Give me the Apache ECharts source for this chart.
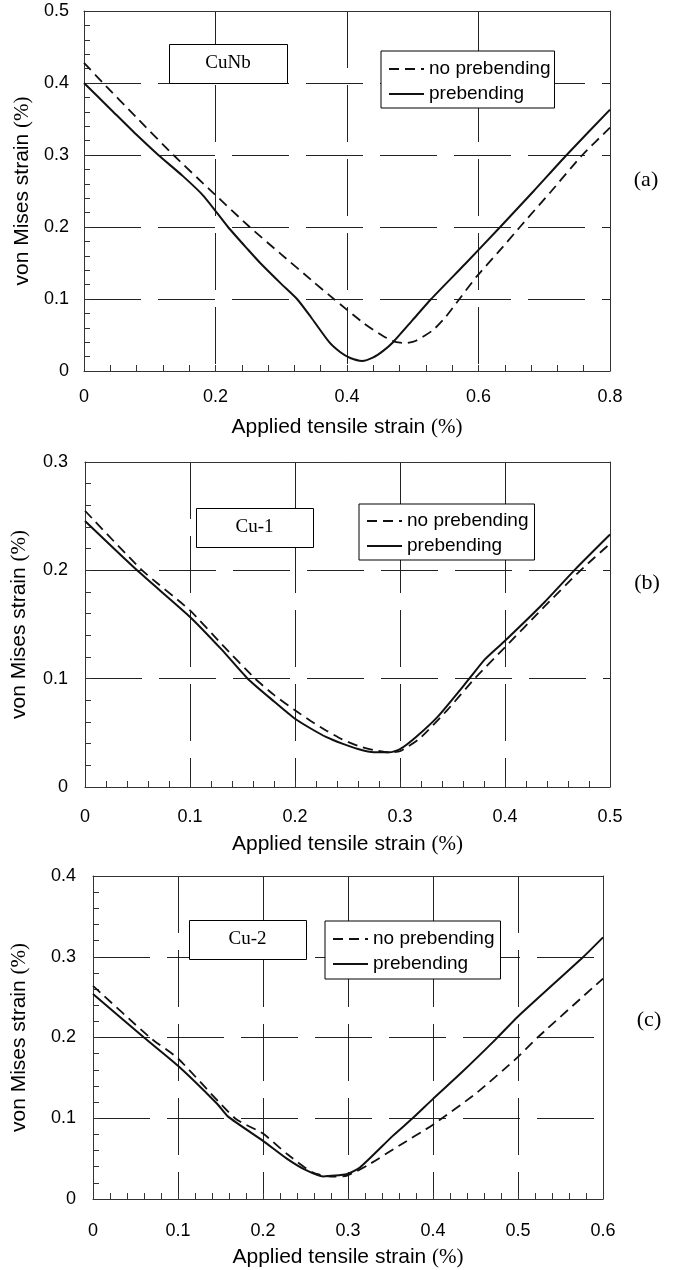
<!DOCTYPE html>
<html>
<head>
<meta charset="utf-8">
<script src="https://cdn.jsdelivr.net/npm/echarts@6/dist/echarts.min.js"></script>
<style>
  html, body { margin: 0; padding: 0; background: #fff; }
  #chart { width: 680px; height: 1270px; }
</style>
</head>
<body>
<div id="chart"></div>
<script>
// (a) CuNb
const aPreX = [0, 0.04, 0.08, 0.113, 0.15, 0.182, 0.219, 0.25, 0.268, 0.30, 0.324, 0.345, 0.373, 0.39, 0.405, 0.423, 0.44, 0.455, 0.47, 0.50, 0.528, 0.58, 0.633, 0.684, 0.734, 0.8]
const aPreY = [0.400, 0.364, 0.328, 0.300, 0.271, 0.243, 0.200, 0.168, 0.150, 0.121, 0.100, 0.075, 0.040, 0.026, 0.018, 0.014, 0.019, 0.028, 0.040, 0.071, 0.100, 0.149, 0.200, 0.250, 0.300, 0.363]
const aNoX = [0, 0.029, 0.08, 0.136, 0.19, 0.252, 0.30, 0.35, 0.38, 0.426, 0.456, 0.475, 0.49, 0.505, 0.531, 0.55, 0.571, 0.597, 0.63, 0.663, 0.71, 0.758, 0.8]
const aNoY = [0.428, 0.400, 0.352, 0.300, 0.253, 0.200, 0.162, 0.123, 0.100, 0.066, 0.048, 0.040, 0.039, 0.042, 0.057, 0.075, 0.100, 0.131, 0.165, 0.200, 0.249, 0.300, 0.338]

// (b) Cu-1
const bPreX = [0, 0.0496, 0.1, 0.13, 0.155, 0.18, 0.2, 0.215, 0.23, 0.245, 0.26, 0.275, 0.29, 0.3, 0.315, 0.336, 0.366, 0.381, 0.4, 0.435, 0.466, 0.5]
const bPreY = [0.2455, 0.200, 0.157, 0.127, 0.100, 0.079, 0.063, 0.054, 0.046, 0.040, 0.035, 0.032, 0.032, 0.035, 0.046, 0.065, 0.100, 0.118, 0.135, 0.168, 0.200, 0.233]
const bNoX = [0, 0.0545, 0.1, 0.13, 0.162, 0.18, 0.2, 0.215, 0.23, 0.245, 0.26, 0.275, 0.29, 0.3, 0.319, 0.345, 0.371, 0.4, 0.435, 0.472, 0.5]
const bNoY = [0.255, 0.200, 0.163, 0.132, 0.100, 0.085, 0.0708, 0.061, 0.052, 0.044, 0.038, 0.034, 0.032, 0.033, 0.045, 0.071, 0.100, 0.129, 0.164, 0.200, 0.2246]

// (c) Cu-2
const cPreX = [0, 0.06, 0.1, 0.146, 0.159, 0.2, 0.228, 0.25, 0.271, 0.299, 0.314, 0.353, 0.376, 0.4, 0.432, 0.474, 0.5, 0.577, 0.6]
const cPreY = [0.254, 0.200, 0.165, 0.118, 0.102, 0.072, 0.050, 0.036, 0.028, 0.031, 0.039, 0.0785, 0.100, 0.124, 0.155, 0.198, 0.226, 0.300, 0.324]
const cNoX = [0, 0.067, 0.1, 0.167, 0.2, 0.228, 0.258, 0.279, 0.299, 0.325, 0.36, 0.4, 0.452, 0.5, 0.523, 0.6]
const cNoY = [0.264, 0.200, 0.174, 0.100, 0.081, 0.056, 0.033, 0.0277, 0.029, 0.043, 0.066, 0.092, 0.132, 0.176, 0.200, 0.273]

const seriesNames = ['no prebending', 'prebending']
const panelTags = ['CuNb', 'Cu-1', 'Cu-2']
const panelLetters = ['(a)', '(b)', '(c)']
const xMax = [0.8, 0.5, 0.6]
const xStep = [0.2, 0.1, 0.1]
const yMax = [0.5, 0.3, 0.4]
const yStep = [0.1, 0.1, 0.1]

const SANS = '"Liberation Sans", Arial, sans-serif'
const SERIF = '"Liberation Serif", "Times New Roman", serif'
const INK = '#333'

const grids = [
    {left: 84, top: 11, width: 526, height: 360},
    {left: 85, top: 462, width: 525, height: 325},
    {left: 93, top: 876, width: 510, height: 323},
]
const xLabelMargin = [17, 21, 23]
const xNameGap = [46, 47, 48]
const yLabelMargin = [15, 17, 17]
const yNameGap = [42, 55, 63]

const pair = (xs, ys) => xs.map((x, i) => [x, ys[i]])

function axisCommon() {
    return {
        type: 'value',
        axisLine: {show: true, lineStyle: {color: INK, width: 1}},
        axisTick: {show: true, inside: true, length: 6, lineStyle: {color: INK}},
        minorTick: {show: true, splitNumber: 5, length: 6, lineStyle: {color: INK}},
        splitLine: {show: true, lineStyle: {color: '#222', width: 1, type: [57, 17]}},
        nameLocation: 'middle',
        nameTextStyle: {
            color: '#000',
            rich: {
                s: {fontFamily: SANS, fontSize: 21, color: '#000'},
                p: {fontFamily: SERIF, fontSize: 21, color: '#000'},
            },
        },
    }
}

// plain border axes for the top and right edges of each box
function edgeAxis(i, max, position) {
    return {
        type: 'value',
        gridIndex: i,
        position: position,
        min: 0,
        max: max,
        axisLine: {show: true, onZero: false, lineStyle: {color: INK, width: 1}},
        axisTick: {show: false},
        axisLabel: {show: false},
        splitLine: {show: false},
    }
}

const xAxes = grids.map((g, i) => Object.assign(axisCommon(), {
    gridIndex: i,
    min: 0,
    max: xMax[i],
    interval: xStep[i],
    name: '{s|Applied tensile strain }{p|(%)}',
    nameGap: xNameGap[i],
    axisLabel: {color: '#000', fontFamily: SANS, fontSize: 18, margin: xLabelMargin[i]},
})).concat(grids.map((g, i) => edgeAxis(i, xMax[i], 'top')))

const yAxes = grids.map((g, i) => Object.assign(axisCommon(), {
    gridIndex: i,
    min: 0,
    max: yMax[i],
    interval: yStep[i],
    name: '{s|von Mises strain }{p|(%)}',
    nameGap: yNameGap[i],
    axisLabel: {color: '#000', fontFamily: SANS, fontSize: 18, margin: yLabelMargin[i]},
})).concat(grids.map((g, i) => edgeAxis(i, yMax[i], 'right')))

const curves = [
    [pair(aNoX, aNoY), pair(aPreX, aPreY)],
    [pair(bNoX, bNoY), pair(bPreX, bPreY)],
    [pair(cNoX, cNoY), pair(cPreX, cPreY)],
]

const series = []
curves.forEach((pairOfCurves, i) => {
    pairOfCurves.forEach((data, k) => {
        series.push({
            name: seriesNames[k],
            type: 'line',
            xAxisIndex: i,
            yAxisIndex: i,
            data: data,
            smooth: 0.2,
            symbol: 'none',
            silent: true,
            itemStyle: {color: '#111'},
            lineStyle: {color: '#111', width: k === 0 ? 1.8 : 2, type: k === 0 ? [10, 6] : 'solid'},
            z: 3,
        })
    })
})

const legendBoxes = [
    {left: 381, top: 51, padding: [8, 4, 4, 7]},
    {left: 359, top: 504, padding: [7, 6, 4, 7]},
    {left: 325, top: 921, padding: [8, 6, 5, 7]},
]
const legends = legendBoxes.map(b => ({
    data: seriesNames,
    orient: 'vertical',
    left: b.left,
    top: b.top,
    padding: b.padding,
    itemWidth: 35,
    itemHeight: 14,
    itemGap: 5,
    backgroundColor: '#fff',
    borderColor: '#000',
    borderWidth: 1,
    borderRadius: 0,
    selectedMode: false,
    itemStyle: {color: 'rgba(0,0,0,0)', borderWidth: 0, opacity: 0},
    textStyle: {color: '#000', fontFamily: SANS, fontSize: 19, lineHeight: 20},
    z: 6,
}))

// annotation boxes and panel letters
const tagBoxes = [
    {x: 169, y: 44, w: 118, h: 39},
    {x: 196, y: 508, w: 117, h: 39},
    {x: 189, y: 920, w: 117, h: 39},
]
const letterPos = [[646, 180], [647, 583], [649, 1020]]

const graphics = []
tagBoxes.forEach((b, i) => {
    graphics.push({
        type: 'rect',
        shape: {x: b.x + 0.5, y: b.y + 0.5, width: b.w, height: b.h},
        style: {fill: '#fff', stroke: '#000', lineWidth: 1},
        z: 10,
    })
    graphics.push({
        type: 'text',
        x: b.x + b.w / 2,
        y: b.y + b.h / 2,
        style: {text: panelTags[i], font: '19px ' + SERIF, fill: '#000', align: 'center', verticalAlign: 'middle'},
        z: 11,
    })
})
letterPos.forEach((p, i) => {
    graphics.push({
        type: 'text',
        x: p[0],
        y: p[1],
        style: {text: panelLetters[i], font: '22px ' + SERIF, fill: '#000', align: 'center', verticalAlign: 'middle'},
        z: 11,
    })
})

const chart = echarts.init(document.getElementById('chart'))
chart.setOption({
    animation: false,
    backgroundColor: '#fff',
    grid: grids,
    xAxis: xAxes,
    yAxis: yAxes,
    legend: legends,
    series: series,
    graphic: graphics,
})
</script>
</body>
</html>
